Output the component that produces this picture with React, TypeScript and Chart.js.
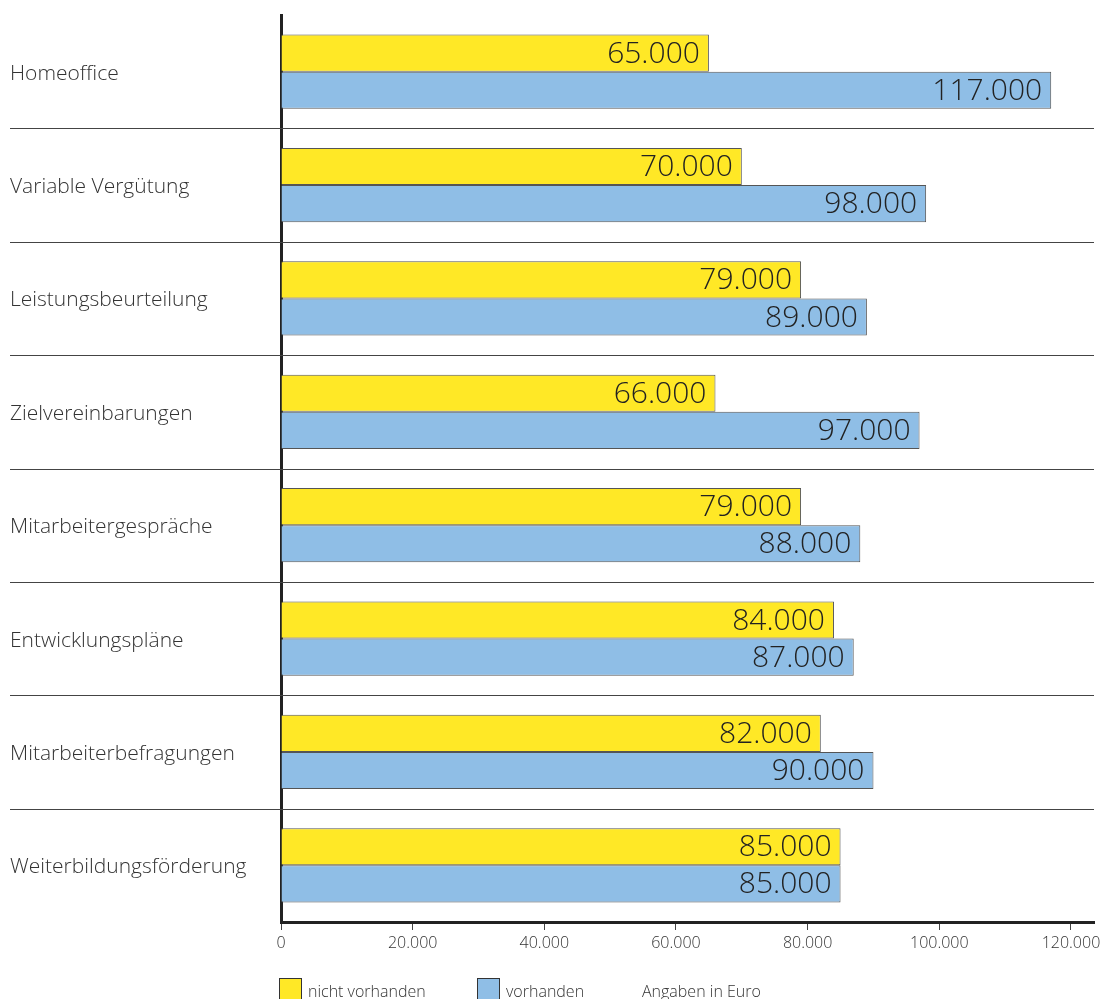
import React, { useEffect, useRef } from 'react';
import { Chart, registerables } from 'chart.js';

Chart.register(...registerables);

const categories = [
  'Homeoffice',
  'Variable Vergütung',
  'Leistungsbeurteilung',
  'Zielvereinbarungen',
  'Mitarbeitergespräche',
  'Entwicklungspläne',
  'Mitarbeiterbefragungen',
  'Weiterbildungsförderung',
];
const nichtVorhanden = [65000, 70000, 79000, 66000, 79000, 84000, 82000, 85000];
const vorhanden = [117000, 98000, 89000, 97000, 88000, 87000, 90000, 85000];
const seriesLabels = ['nicht vorhanden', 'vorhanden'];
const tickValues = [0, 20000, 40000, 60000, 80000, 100000, 120000];
const unitNote = 'Angaben in Euro';

const YELLOW = '#FFE826';
const BLUE = '#8FBEE6';
const FONT = '"Open Sans", sans-serif';

const fmt = (n: number) => String(Math.round(n)).replace(/\B(?=(\d{3})+(?!\d))/g, '.');

const separatorPlugin = {
  id: 'separators',
  beforeDatasetsDraw(chart: any) {
    const y = chart.scales.y;
    const ctx = chart.ctx;
    ctx.save();
    ctx.strokeStyle = '#444';
    ctx.lineWidth = 1;
    for (let i = 0; i < categories.length - 1; i++) {
      const py = Math.round((y.getPixelForValue(i) + y.getPixelForValue(i + 1)) / 2) + 0.5;
      ctx.beginPath();
      ctx.moveTo(10, py);
      ctx.lineTo(chart.chartArea.right, py);
      ctx.stroke();
    }
    ctx.restore();
  },
};

const valueLabelPlugin = {
  id: 'valueLabels',
  afterDatasetsDraw(chart: any) {
    const ctx = chart.ctx;
    ctx.save();
    ctx.font = `300 30px ${FONT}`;
    ctx.fillStyle = '#222';
    ctx.textAlign = 'right';
    ctx.textBaseline = 'middle';
    chart.data.datasets.forEach((ds: any, di: number) => {
      const meta = chart.getDatasetMeta(di);
      meta.data.forEach((bar: any, i: number) => {
        ctx.fillText(fmt(ds.data[i]), bar.x - 9, bar.y + 1);
      });
    });
    ctx.restore();
  },
};

const legendPlugin = {
  id: 'customLegend',
  afterDraw(chart: any) {
    const ctx = chart.ctx;
    const left = chart.chartArea.left;
    const top = 978;
    ctx.save();
    ctx.font = `300 16px ${FONT}`;
    ctx.fillStyle = '#333';
    ctx.textBaseline = 'alphabetic';
    const items = [
      { x: left - 2, color: YELLOW, text: seriesLabels[0] },
      { x: left + 196, color: BLUE, text: seriesLabels[1] },
    ];
    items.forEach((it) => {
      ctx.fillStyle = it.color;
      ctx.fillRect(it.x, top, 22, 22);
      ctx.strokeStyle = '#333';
      ctx.lineWidth = 1;
      ctx.strokeRect(it.x + 0.5, top + 0.5, 22, 22);
      ctx.fillStyle = '#333';
      ctx.fillText(it.text, it.x + 29, 997);
    });
    ctx.fillText(unitNote, left + 361, 997);
    ctx.restore();
  },
};

export default function App() {
  const ref = useRef<HTMLCanvasElement>(null);

  useEffect(() => {
    if (!ref.current) return;
    const chart = new Chart(ref.current, {
      type: 'bar',
      data: {
        labels: categories,
        datasets: [
          {
            label: seriesLabels[0],
            data: nichtVorhanden,
            backgroundColor: YELLOW,
            borderColor: '#555',
            borderWidth: 1,
            categoryPercentage: 0.656,
            barPercentage: 1,
          },
          {
            label: seriesLabels[1],
            data: vorhanden,
            backgroundColor: BLUE,
            borderColor: '#555',
            borderWidth: 1,
            categoryPercentage: 0.656,
            barPercentage: 1,
          },
        ],
      },
      options: {
        indexAxis: 'y',
        responsive: false,
        animation: false,
        layout: { padding: { left: 10, top: 15, right: 8, bottom: 0 } },
        plugins: {
          legend: { display: false },
          tooltip: { enabled: false },
        },
        scales: {
          x: {
            min: 0,
            max: 123500,
            afterBuildTicks: (scale: any) => {
              scale.ticks = tickValues.map((v) => ({ value: v }));
            },
            afterFit: (scale: any) => {
              scale.height = 77;
              scale.paddingLeft = 0;
              scale.paddingRight = 0;
            },
            grid: {
              drawOnChartArea: false,
              drawTicks: true,
              tickLength: 8,
              tickColor: '#444',
              tickWidth: 1,
            },
            border: { display: true, width: 3, color: '#222' },
            ticks: {
              padding: 4,
              color: '#333',
              font: { family: FONT, size: 16, weight: '300' },
              maxRotation: 0,
              autoSkip: false,
              callback: (v: any) => fmt(Number(v)),
            },
          },
          y: {
            afterFit: (scale: any) => {
              scale.width = 271;
              scale.paddingTop = 0;
              scale.paddingBottom = 0;
            },
            grid: { display: false },
            border: { display: true, width: 3, color: '#222' },
            ticks: {
              crossAlign: 'far',
              labelOffset: 2,
              color: '#333',
              font: { family: FONT, size: 21, weight: '300' },
            },
          },
        },
      },
      plugins: [separatorPlugin, valueLabelPlugin, legendPlugin],
    } as any);
    return () => chart.destroy();
  }, []);

  return (
    <div style={{ position: 'fixed', left: 0, top: 0, width: 1102, height: 999, background: '#fff' }}>
      <canvas ref={ref} width={1102} height={999} style={{ display: 'block' }} />
    </div>
  );
}
